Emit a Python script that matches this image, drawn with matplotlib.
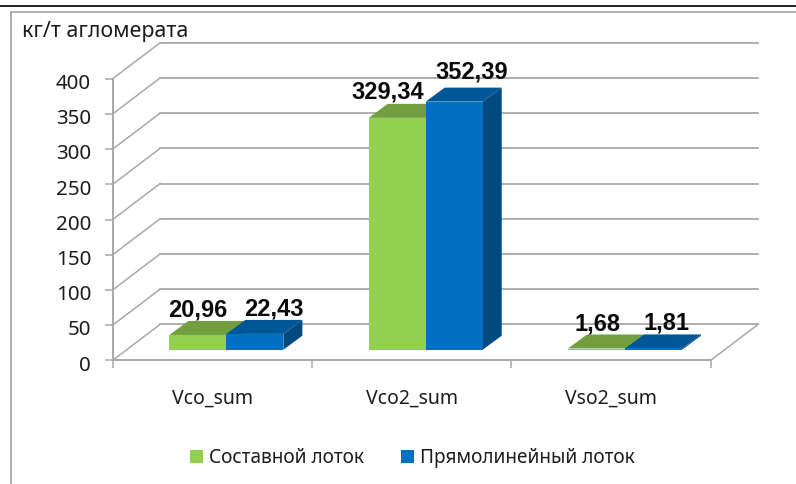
import matplotlib
matplotlib.use("Agg")
import matplotlib.pyplot as plt
from matplotlib.lines import Line2D
from matplotlib.patches import Patch, Polygon
from matplotlib.transforms import ScaledTranslation

plt.rcParams["font.family"] = ["Noto Sans", "DejaVu Sans"]

# --- data ---
categories = ["Vco_sum", "Vco2_sum", "Vso2_sum"]
composite = [20.96, 329.34, 1.68]
straight = [22.43, 352.39, 1.81]
composite_labels = ["20,96", "329,34", "1,68"]
straight_labels = ["22,43", "352,39", "1,81"]
y_ticks = [0, 50, 100, 150, 200, 250, 300, 350, 400]
series_names = ["Составной лоток", "Прямолинейный лоток"]
y_title = "кг/т агломерата"

W, H = 796, 484
L, R, B, T = 112.7, 710.7, 360.3, 78.7
GRID = "#a8a8a8"
TEXT = "#1c1c1c"

fig = plt.figure(figsize=(W / 100, H / 100), dpi=100, facecolor="white")
ax = fig.add_axes([L / W, 1 - B / H, (R - L) / W, (B - T) / H])
ax.set_xlim(0, len(categories))
ax.set_ylim(0, 400)
ax.patch.set_alpha(0)

# pixel helpers for the fake 3D depth
px_x = len(categories) / (R - L)
px_y = 400 / (B - T)
wall_dx, wall_dy = 47.5 * px_x, 36 * px_y
base_dx, base_dy = 14 * px_x, 10.6 * px_y
bar_dx, bar_dy = 19 * px_x, 14 * px_y
bar_w = 57 * px_x

# --- walls and gridlines ---
for v in y_ticks:
    ax.plot([0, wall_dx], [v, v + wall_dy], color=GRID, lw=1.1, clip_on=False, zorder=1)
    ax.plot([wall_dx, len(categories) + wall_dx], [v + wall_dy, v + wall_dy],
            color=GRID, lw=1.3, clip_on=False, zorder=1)
ax.plot([len(categories), len(categories) + wall_dx], [0, wall_dy],
        color=GRID, lw=1.1, clip_on=False, zorder=1)


def draw_bar(x0, value, front, top, side):
    x1 = x0 + bar_w
    y0 = base_dy
    y1 = base_dy + value
    boxes = [
        ([(x0, y1), (x1, y1), (x1 + bar_dx, y1 + bar_dy), (x0 + bar_dx, y1 + bar_dy)], top),
        ([(x1, y0), (x1 + bar_dx, y0 + bar_dy), (x1 + bar_dx, y1 + bar_dy), (x1, y1)], side),
        ([(x0, y0), (x1, y0), (x1, y1), (x0, y1)], front),
    ]
    for pts, c in boxes:
        ax.add_patch(Polygon(pts, closed=True, facecolor=c, edgecolor="none",
                             clip_on=False, zorder=3))


# --- bars and labels (offsets in px, the labels were moved by hand in the original) ---
green_offsets = [(0, 25), (-9, 26), (1, 25)]
blue_offsets = [(19, 25), (18, 30), (13, 25)]
label_font = dict(family=["Liberation Sans", "DejaVu Sans"], fontsize=17, fontweight="bold",
                  color="#0a0a0a", ha="center", va="center")
for i in range(len(categories)):
    mid = i + 0.5 + base_dx
    draw_bar(mid - bar_w, composite[i], "#92d050", "#729e40", "#5f8535")
    draw_bar(mid, straight[i], "#0070c0", "#005797", "#004a80")
    ax.annotate(composite_labels[i], (mid - bar_w / 2, composite[i] + base_dy),
                xytext=green_offsets[i], textcoords="offset pixels",
                annotation_clip=False, zorder=5, **label_font)
    ax.annotate(straight_labels[i], (mid + bar_w / 2, straight[i] + base_dy),
                xytext=blue_offsets[i], textcoords="offset pixels",
                annotation_clip=False, zorder=5, **label_font)

# --- axes ---
for s in ["top", "right"]:
    ax.spines[s].set_visible(False)
for s in ["left", "bottom"]:
    ax.spines[s].set_color(GRID)
    ax.spines[s].set_linewidth(1.4)
ax.set_yticks(y_ticks)
ax.tick_params(axis="y", length=5.5, width=1.1, color=GRID, labelsize=14.8,
               labelcolor=TEXT, pad=10)
# tick numbers sit a little under their ticks in the original
for lab in ax.get_yticklabels():
    lab.set_transform(lab.get_transform() + ScaledTranslation(0, -2 / 72, fig.dpi_scale_trans))
ax.set_xticks(range(len(categories) + 1))
ax.set_xticklabels([])
ax.tick_params(axis="x", which="major", length=5.5, width=1.1, color=GRID)
ax.set_xticks([i + 0.5 for i in range(len(categories))], minor=True)
ax.set_xticklabels(categories, minor=True)
ax.tick_params(axis="x", which="minor", length=0, pad=20.5, labelsize=14, labelcolor=TEXT)

fig.text(22 / W, 1 - 31 / H, y_title, fontsize=15.4, color=TEXT, ha="left", va="center")

# --- legend ---
handles = [Patch(facecolor="#92d050"), Patch(facecolor="#0070c0")]
fig.legend(handles, series_names, ncol=2, loc="center", bbox_to_anchor=(412.5 / W, 1 - 458 / H),
           frameon=False, fontsize=13.7, labelcolor=TEXT, handlelength=0.68, handleheight=0.68,
           handletextpad=0.3, columnspacing=1.95, borderpad=0, borderaxespad=0)

# --- surrounding frame of the screenshot ---
fig.add_artist(Line2D([0, 1], [1 - 6 / H, 1 - 6 / H], color="#111111", lw=1.3))
fig.add_artist(Line2D([10.5 / W, 1], [1 - 12 / H, 1 - 12 / H], color="#9a9a9a", lw=1.1))
fig.add_artist(Line2D([10.5 / W, 10.5 / W], [0, 1 - 12 / H], color="#9a9a9a", lw=1.1))

fig.savefig("out.png", dpi=100, facecolor="white")
